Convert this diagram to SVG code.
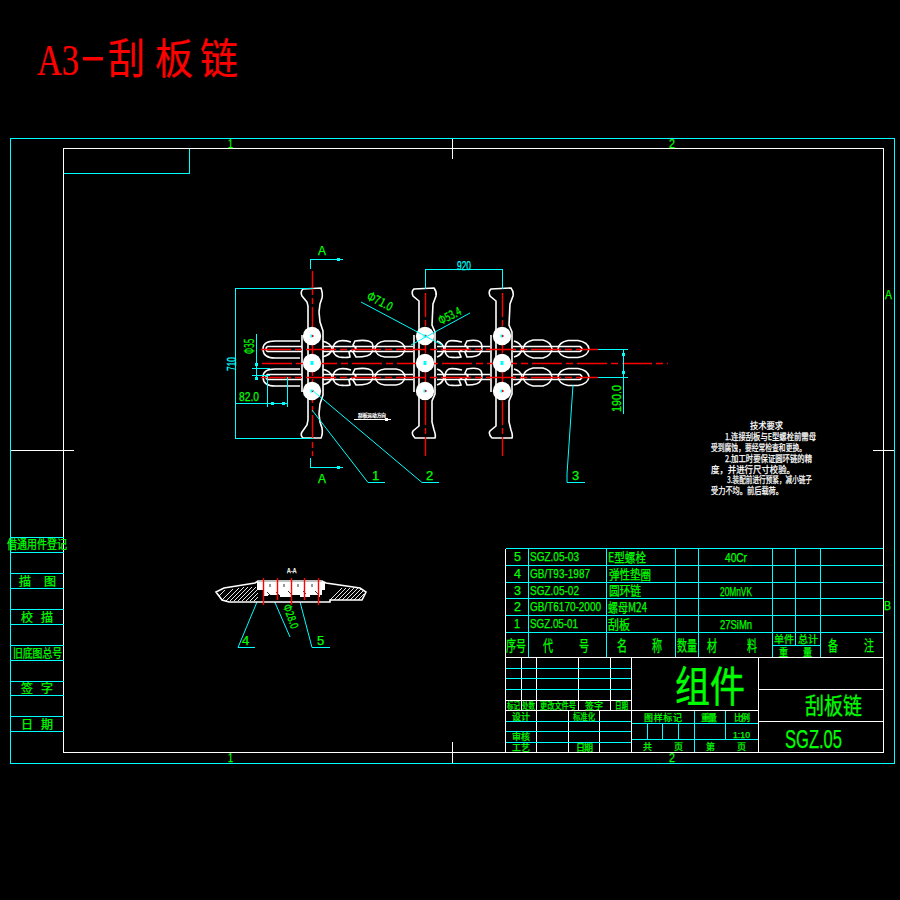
<svg xmlns="http://www.w3.org/2000/svg" xmlns:xlink="http://www.w3.org/1999/xlink" width="900" height="900" viewBox="0 0 900 900">
<style>
.c{stroke:#00ffff;stroke-width:1;fill:none;shape-rendering:crispEdges}
.l{stroke:#00ffff;stroke-width:1;fill:none}
.w{stroke:#fff;stroke-width:1;fill:none;shape-rendering:crispEdges}
.p{stroke:#fff;stroke-width:1.6;fill:#000}
.o{stroke:#fff;stroke-width:1.6;fill:none}
.r{stroke:#ff0000;stroke-width:1.4;fill:none;stroke-dasharray:24 3 6 3}
.rs{stroke:#ff0000;stroke-width:1.4;fill:none}
.s{fill:#00ffff}
text{font-family:"Noto Sans CJK SC","Liberation Sans",sans-serif;fill:#00ff00;stroke:#00ff00;stroke-width:.25}
.n{font-family:"Liberation Sans","Noto Sans CJK SC",sans-serif}
.wt{fill:#fff;stroke:#fff;font-size:9px}
.cy{fill:#00ffff;stroke:#00ffff}
.tt{fill:#f00;stroke:#f00;stroke-width:.2;font-size:42px}
.f12{font-size:12px}.f13{font-size:13px}.f9{font-size:9px}.f15{font-size:15px}
</style>
<defs>
<g id="row">
<path class="o" d="M300,-8H275Q263,-8 263,0Q263,9 275,9H300"/>
<path class="o" d="M267,-2.500H302M267,2.500H302M267,-2.500Q265,0 267,2.500"/>
<path class="o" d="M322,-8Q331,-6 332,0Q331,6 322,8"/>
<path class="o" d="M351,-7Q344,-9 339,-8Q333,-6 333,0Q333,6 339,8Q346,9 350,8L349,3L352,1"/>
<path class="o" d="M355,-8Q368,-10 372,-6Q374,-2 372,3Q370,8 356,8L353,3L356,-1L353,-4Z"/>
<path class="o" d="M385,-8Q376,-7 375,0Q376,7 385,8H396Q404,7 405,0Q404,-7 396,-8Z"/>
<path class="o" d="M322,-2.500H413M322,2.500H413"/>
<path class="o" d="M437,-8Q443,-6 444,0Q443,6 437,8"/>
<path class="o" d="M462,-7Q452,-9 449,-8Q445,-6 445,0Q445,6 449,8Q456,9 461,8L459,3L462,1"/>
<path class="o" d="M467,-8Q478,-10 481,-6Q483,-2 481,3Q479,8 467,8L465,3L468,-1L465,-4Z"/>
<path class="o" d="M437,-2.500H490M437,2.500H490"/>
<path class="o" d="M514,-8Q521,-6 522,0Q521,6 514,8"/>
<path class="o" d="M533,-9Q524,-7 523,0Q524,7 533,9H543Q551,7 552,0Q551,-7 543,-9Z"/>
<path class="o" d="M568,-8.500Q559,-7 558,0Q559,7 568,8.500H578Q588,7 589,0Q588,-7 578,-8.500Z"/>
<path class="o" d="M513,-2.500H580Q584,0 580,2.500H513"/>
</g>
<g id="p2"><path class="p" d="M-11,289L9,288Q12,292 11,296L8,304L7,325L10,332V394L7,401L7,422L9,430Q11,435 10,438L-10,438Q-14,434 -12,431L-6,426V301L-12,296Q-14,291 -11,289Z"/><path class="o" d="M-11,335V392"/></g>
<g id="holes" fill="#fff">
<circle cy="336" r="9.200"/><circle cy="363" r="9.200"/><circle cy="391" r="9.200"/>
<rect x="-1.500" y="334.500" width="2" height="3" fill="#00ffff"/><rect x="0" y="335" width="1.500" height="2" fill="#f00"/>
<rect x="-1.500" y="361" width="3" height="4" fill="#00ffff"/>
<rect x="-1.500" y="389.500" width="2" height="3" fill="#00ffff"/><rect x="0" y="390" width="1.500" height="2" fill="#f00"/>
</g>
</defs>
<rect width="900" height="900" fill="#000"/>

<g id="title">
<text class="tt" x="37" y="75" style="font-family:'Liberation Serif',serif;font-size:44px" textLength="42" lengthAdjust="spacingAndGlyphs">A3</text>
<rect x="83" y="57" width="20" height="3.500" fill="#f00"/>
<text class="tt" x="108" y="74" textLength="37" lengthAdjust="spacingAndGlyphs">刮</text>
<text class="tt" x="155" y="74" textLength="38" lengthAdjust="spacingAndGlyphs">板</text>
<text class="tt" x="200" y="74" textLength="38" lengthAdjust="spacingAndGlyphs">链</text>
</g>

<g id="frame">
<rect class="c" x="10.500" y="138.500" width="884" height="625"/>
<rect class="w" x="63.500" y="148.500" width="820" height="604"/>
<path class="c" d="M63.500,173.500H189.500V148.500"/>
<path class="w" d="M452.500,138.500V159M452.500,742V763M10.500,450.500H74M873,450.500H894"/>
<path class="c" d="M10.500,537.500H63.500M10.500,552.500H63.500M10.500,573.500H63.500M10.500,588.500H63.500M10.500,609.500H63.500M10.500,624.500H63.500M10.500,645.500H63.500M10.500,660.500H63.500M10.500,681.500H63.500M10.500,695.500H63.500M10.500,716.500H63.500M10.500,731.500H63.500"/>
<g class="f12">
<text class="n" x="228" y="148" textLength="5" lengthAdjust="spacingAndGlyphs">1</text><text class="n" x="669" y="148" textLength="6" lengthAdjust="spacingAndGlyphs">2</text>
<text class="n" x="228" y="762" textLength="5" lengthAdjust="spacingAndGlyphs">1</text><text class="n" x="669" y="762" textLength="6" lengthAdjust="spacingAndGlyphs">2</text>
<text class="n" x="885" y="299" textLength="7" lengthAdjust="spacingAndGlyphs">A</text><text class="n" x="884" y="610" textLength="7" lengthAdjust="spacingAndGlyphs">B</text>
<text x="7" y="549" textLength="60" lengthAdjust="spacingAndGlyphs">借通用件登记</text>
<text x="19" y="586">描</text><text x="44" y="586">图</text>
<text x="21" y="622">校</text><text x="41" y="622">描</text>
<text x="13" y="658" textLength="49" lengthAdjust="spacingAndGlyphs">旧底图总号</text>
<text x="21" y="693">签</text><text x="41" y="693">字</text>
<text x="21" y="729">日</text><text x="41" y="729">期</text>
</g>
</g>

<g id="parts-table">
<path class="c" d="M505.500,548.500H883M505.500,565.500H883M505.500,582.500H883M505.500,598.500H883M505.500,615.500H883M505.500,632.500H883M528.500,548.500V657M606.500,548.500V657M675.500,548.500V657M698.500,548.500V657M772.500,548.500V657M795.500,548.500V645.500M820.500,548.500V657M772.500,645.500H820.500"/>
<path class="w" d="M505.500,548.500V752.500M505.500,657.500H883"/>
<g class="f13">
<text class="n" x="514" y="561" textLength="7" lengthAdjust="spacingAndGlyphs">5</text><text class="n" x="514" y="578" textLength="7" lengthAdjust="spacingAndGlyphs">4</text><text class="n" x="514" y="595" textLength="7" lengthAdjust="spacingAndGlyphs">3</text><text class="n" x="514" y="611" textLength="7" lengthAdjust="spacingAndGlyphs">2</text><text class="n" x="514" y="628" textLength="6" lengthAdjust="spacingAndGlyphs">1</text>
<text class="n" x="530" y="561" textLength="49" lengthAdjust="spacingAndGlyphs">SGZ.05-03</text>
<text class="n" x="530" y="578" textLength="60" lengthAdjust="spacingAndGlyphs">GB/T93-1987</text>
<text class="n" x="530" y="595" textLength="49" lengthAdjust="spacingAndGlyphs">SGZ.05-02</text>
<text class="n" x="530" y="611" textLength="71" lengthAdjust="spacingAndGlyphs">GB/T6170-2000</text>
<text class="n" x="530" y="628" textLength="48" lengthAdjust="spacingAndGlyphs">SGZ.05-01</text>
<text x="608" y="562" textLength="38" lengthAdjust="spacingAndGlyphs">E型螺栓</text>
<text x="609" y="579" textLength="42" lengthAdjust="spacingAndGlyphs">弹性垫圈</text>
<text x="609" y="595" textLength="32" lengthAdjust="spacingAndGlyphs">圆环链</text>
<text x="608" y="612" textLength="39" lengthAdjust="spacingAndGlyphs">螺母M24</text>
<text x="608" y="629" textLength="22" lengthAdjust="spacingAndGlyphs">刮板</text>
<text class="n" x="725" y="562" textLength="22" lengthAdjust="spacingAndGlyphs">40Cr</text>
<text class="n" x="720" y="596" textLength="32" lengthAdjust="spacingAndGlyphs">20MnVK</text>
<text class="n" x="720" y="629" textLength="32" lengthAdjust="spacingAndGlyphs">27SiMn</text>
</g>
<g class="f15">
<text x="506" y="651" textLength="20" lengthAdjust="spacingAndGlyphs">序号</text>
<text x="543" y="651" textLength="10" lengthAdjust="spacingAndGlyphs">代</text><text x="579" y="651" textLength="10" lengthAdjust="spacingAndGlyphs">号</text><text x="617" y="651" textLength="10" lengthAdjust="spacingAndGlyphs">名</text><text x="652" y="651" textLength="10" lengthAdjust="spacingAndGlyphs">称</text>
<text x="677" y="651" textLength="20" lengthAdjust="spacingAndGlyphs">数量</text>
<text x="707" y="651" textLength="10" lengthAdjust="spacingAndGlyphs">材</text><text x="747" y="651" textLength="10" lengthAdjust="spacingAndGlyphs">料</text>
<text x="828" y="651" textLength="10" lengthAdjust="spacingAndGlyphs">备</text><text x="864" y="651" textLength="10" lengthAdjust="spacingAndGlyphs">注</text>
</g>
<g style="font-size:10px">
<text x="774" y="643" textLength="20" lengthAdjust="spacingAndGlyphs">单件</text><text x="798" y="643" textLength="20" lengthAdjust="spacingAndGlyphs">总计</text>
<text x="779" y="656" textLength="9" lengthAdjust="spacingAndGlyphs">重</text><text x="803" y="656" textLength="9" lengthAdjust="spacingAndGlyphs">量</text>
</g>
</g>

<g id="title-block">
<path class="w" d="M521.500,657V710M536.500,657V752M578.500,657V710M610.500,657V710M631.500,657V752M568.500,710V752M599.500,710V752M505.500,700.500H631.500M505.500,710.500H758M758.500,657V752M758.500,689.500H883M758.500,721.500H883"/>
<path class="c" d="M505.500,668.500H631M505.500,678.500H631M505.500,689.500H631M505.500,721.500H631M505.500,731.500H631M505.500,742.500H631M631.500,723.500H758M631.500,739.500H758M647.500,723.500V739M662.500,723.500V739M678.500,723.500V739M694.500,710.500V752M725.500,710.500V739"/>
<g class="f9">
<text x="507" y="709" textLength="13" lengthAdjust="spacingAndGlyphs">标记</text><text x="522" y="709" textLength="13" lengthAdjust="spacingAndGlyphs">处数</text>
<text x="540" y="709" textLength="36" lengthAdjust="spacingAndGlyphs">更改文件号</text>
<text x="585" y="709" textLength="18" lengthAdjust="spacing">签字</text><text x="615" y="709" textLength="13" lengthAdjust="spacingAndGlyphs">日期</text>
<text x="512" y="720" textLength="18" lengthAdjust="spacing">设计</text>
<text x="573" y="720" textLength="22" lengthAdjust="spacingAndGlyphs">标准化</text>
<text x="512" y="740" textLength="18" lengthAdjust="spacing">审核</text>
<text x="512" y="751" textLength="18" lengthAdjust="spacing">工艺</text>
<text x="576" y="751" textLength="17" lengthAdjust="spacing">日期</text>
<text x="644" y="721" textLength="38" lengthAdjust="spacing">图样标记</text>
<text x="701" y="721" textLength="16" lengthAdjust="spacing">重量</text>
<text x="734" y="721" textLength="16" lengthAdjust="spacing">比例</text>
<text x="643" y="750">共</text><text x="674" y="750">页</text><text x="706" y="750">第</text><text x="737" y="750">页</text>
<text class="n" x="733" y="738" textLength="17" lengthAdjust="spacingAndGlyphs">1:10</text>
</g>
<text x="675" y="702" style="font-size:42px;stroke-width:.4" textLength="70" lengthAdjust="spacingAndGlyphs">组件</text>
<text x="805" y="714" style="font-size:23px" textLength="57" lengthAdjust="spacingAndGlyphs">刮板链</text>
<text class="n" x="785" y="748" style="font-size:26px" textLength="57" lengthAdjust="spacingAndGlyphs">SGZ.05</text>
</g>

<g id="chain-rows">
<use xlink:href="#row" href="#row" y="349"/>
<use xlink:href="#row" href="#row" y="377"/>
</g>

<g id="plate-1">
<path class="p" d="M303,289L321,288Q323,294 322,298L320,304L319,312L320,322L323,331V395L320,404L319,414L320,422L322,428Q323,434 321,438H303Q300,435 302,432L307,425L308,420V306L307,302L302,296Q300,292 303,289Z"/>
<path class="o" d="M302,335V392"/>
</g>
<g id="plate-2"><use xlink:href="#p2" href="#p2" x="425"/></g>
<g id="plate-3"><use xlink:href="#p2" href="#p2" x="502"/></g>

<g id="centerlines">
<path class="r" d="M312.500,271V456M425.500,293V456M502.500,293V456"/>
<path class="r" style="stroke-dasharray:30 4 7 4" d="M262,363.500H668M261,349.500H598M261,377.500H598"/>
</g>
<g id="holes-1"><use xlink:href="#holes" href="#holes" x="312"/></g>
<g id="holes-2"><use xlink:href="#holes" href="#holes" x="425"/></g>
<g id="holes-3"><use xlink:href="#holes" href="#holes" x="502"/></g>

<g id="connectors">
<path class="c" d="M343,259.500H310.500V269M310.500,458V467.500H343"/>
<rect class="s" x="337" y="258" width="3" height="3"/><rect class="s" x="337" y="466" width="3" height="3"/>
<path class="c" d="M313,288.500H235.500V438.500H313M235.500,403.500H287M267.500,375V407M287.500,377V407M425.500,289V269.500H502.500V289"/>
<rect class="s" x="271" y="402" width="3" height="3"/><rect class="s" x="282" y="402" width="3" height="3"/>
<path class="c" d="M256.500,334V380M252,368.500H270M252,375.500H270"/>
<rect class="s" x="255" y="363" width="3" height="3"/><rect class="s" x="255" y="377" width="3" height="3"/>
<path class="c" d="M598,349.500H628M598,377.500H628M623.500,349V414"/>
<rect class="s" x="622" y="353" width="3" height="3"/><rect class="s" x="622" y="371" width="3" height="3"/>
<path class="l" d="M312,410L368,482.500H385M312,390L422,482.500H439M573,385L567,474V482.500H585M361,302L442,345M470,313L411,345"/>
<path class="l" d="M262,590L238,647.500H255M299,598L312,647.500H330M266,582L290,637"/>
<path class="w" d="M354,419.500H391"/><rect x="385" y="418" width="3" height="3" fill="#fff"/>
</g>

<g id="section-view">
<path class="p" d="M216,592L224,588L255,583L258,581H322L326,583L360,588L366,592L362,600H330V602H229L222,600Z"/>
<path stroke="#fff" stroke-width=".9" fill="none" d="M219,596L225,590M222,600L233,589M226,601L239,588M230,601L244,587M234,601L248,587M238,601L252,587M242,601L256,587M246,601L258,589M250,601L258,593M254,601L258,597M330,600L342,588M334,600L346,588M338,600L350,588M342,600L354,588M346,600L358,588M350,600L361,589M354,600L363,591M358,600L364,594"/>
<path fill="#fff" d="M257,582H325V590H322V595H320V597H318V595H310V597H300V595H292V597H280V595H268V596H264V590H257Z"/>
<path stroke="#000" stroke-width=".8" fill="none" d="M270,584V587M284,584V587M298,584V587M312,584V587M267,592L270,595M276,592L279,595M288,591L291,594M303,591L306,594M315,591L318,594"/>
<path class="rs" d="M263.500,578V605M277.500,578V600M291.500,578V605M304.500,578V600M318.500,578V605"/>
<text class="wt" x="287" y="573" style="font-size:6px">A-A</text>
</g>

<g id="labels">
<text class="n" x="318" y="255" style="font-size:13px" textLength="8" lengthAdjust="spacingAndGlyphs">A</text>
<text class="n" x="318" y="483" style="font-size:13px" textLength="8" lengthAdjust="spacingAndGlyphs">A</text>
<text class="n cy" x="0" y="0" style="font-size:13px" transform="translate(236,371) rotate(-90)" textLength="14" lengthAdjust="spacingAndGlyphs">710</text>
<text x="0" y="0" style="font-size:13px" transform="translate(254,354) rotate(-90)" textLength="15" lengthAdjust="spacingAndGlyphs">Φ35</text>
<text class="n" x="239" y="401" style="font-size:13px" textLength="20" lengthAdjust="spacingAndGlyphs">82.0</text>
<text class="n cy" x="457" y="270" style="font-size:12px" textLength="14" lengthAdjust="spacingAndGlyphs">920</text>
<text x="0" y="0" style="font-size:12px" transform="translate(366,299) rotate(27)" textLength="27" lengthAdjust="spacingAndGlyphs">Φ71.0</text>
<text x="0" y="0" style="font-size:12px" transform="translate(441,325) rotate(-27)" textLength="24" lengthAdjust="spacingAndGlyphs">Φ53.4</text>
<text class="n" x="0" y="0" style="font-size:13px" transform="translate(621,412) rotate(-90)" textLength="27" lengthAdjust="spacingAndGlyphs">190.0</text>
<text class="n" x="372" y="480" style="font-size:13px">1</text>
<text class="n" x="426" y="480" style="font-size:13px">2</text>
<text class="n" x="572" y="480" style="font-size:13px">3</text>
<text class="n" x="242" y="645" style="font-size:13px">4</text>
<text class="n" x="317" y="645" style="font-size:13px">5</text>
<text x="0" y="0" style="font-size:11px" transform="translate(283,606) rotate(70)" textLength="25" lengthAdjust="spacingAndGlyphs">Φ28.0</text>
<text class="wt" x="358" y="417" style="font-size:5px" textLength="28" lengthAdjust="spacingAndGlyphs">刮板运动方向</text>
</g>

<g id="notes">
<text class="wt" x="750" y="429" textLength="33" lengthAdjust="spacingAndGlyphs">技术要求</text>
<text class="wt" x="725" y="440" textLength="91" lengthAdjust="spacingAndGlyphs">1.连接刮板与E型螺栓前需母</text>
<text class="wt" x="711" y="451" textLength="95" lengthAdjust="spacingAndGlyphs">受到腐蚀，要经常检查和更换。</text>
<text class="wt" x="725" y="462" textLength="87" lengthAdjust="spacingAndGlyphs">2.加工时要保证圆环链的精</text>
<text class="wt" x="711" y="473" textLength="84" lengthAdjust="spacingAndGlyphs">度，并进行尺寸校验。</text>
<text class="wt" x="727" y="483" textLength="85" lengthAdjust="spacingAndGlyphs">3.装配前进行预紧，减小链子</text>
<text class="wt" x="711" y="494" textLength="72" lengthAdjust="spacingAndGlyphs">受力不均。前后载荷。</text>
</g>
</svg>
